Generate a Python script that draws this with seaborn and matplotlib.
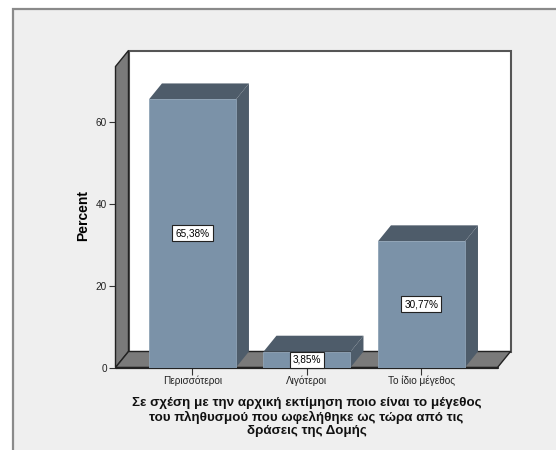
import matplotlib
matplotlib.use("Agg")
import matplotlib.pyplot as plt
from matplotlib.patches import Polygon, Rectangle
import pandas as pd
import seaborn as sns

categories = ['Περισσότεροι', 'Λιγότεροι', 'Το ίδιο μέγεθος']
percent = [65.38, 3.85, 30.77]
y_ticks = [0, 20, 40, 60]
x_title = 'Σε σχέση με την αρχική εκτίμηση ποιο είναι το μέγεθος\nτου πληθυσμού που ωφελήθηκε ως τώρα από τις\nδράσεις της Δομής'

sns.set_style('white')
plt.rcParams['font.family'] = ['Liberation Sans', 'DejaVu Sans']

W, H = 556, 450
fig = plt.figure(figsize=(W / 100, H / 100), dpi=100, facecolor='white')

# grey panel behind the chart
fig.add_artist(Rectangle((12.5 / W, -0.01), 1, 1 - 8.5 / H + 0.01, transform=fig.transFigure,
                         facecolor='#EFEFEF', edgecolor='#8A8A8A', linewidth=1.6, zorder=-1))

# axes is the front plane of the 3d box
ax = fig.add_axes([115.5 / W, 1 - 367.5 / H, 382 / W, 301 / H])
ax.patch.set_alpha(0)

df = pd.DataFrame({'cat': categories, 'pct': percent})
sns.barplot(data=df, x='cat', y='pct', color='#7B92A8', saturation=1, width=0.76, ax=ax, zorder=5,
            edgecolor='#8FA3B6', linewidth=0.6)

ax.set_xlim(-0.672, 2.664)
ax.set_ylim(0, 301 / 4.1)
ax.set_yticks(y_ticks)
ax.tick_params(axis='y', length=5, width=0.8, color='#333333', labelsize=7.2, pad=1, left=True)
ax.tick_params(axis='x', length=5, width=0.8, color='#333333', labelsize=7.2, pad=0.5, bottom=True)
for lab in ax.get_xticklabels() + ax.get_yticklabels():
    lab.set_color('#222222')

ax.set_ylabel('Percent', fontsize=10, fontweight='bold', color='black')
ax.yaxis.set_label_coords(-25 / 382, (367 - 215) / 301)
ax.set_xlabel(x_title, fontsize=9.6, fontweight='bold', color='#111111', labelpad=8, linespacing=1.18)

for s in ax.spines.values():
    s.set_visible(False)

# depth of the box in data units
dx = 13 / 114.5
dy = 16 / 4.1
x0, x1 = ax.get_xlim()
y0, y1 = ax.get_ylim()


def face(pts, color, z, edge='none', lw=0):
    ax.add_patch(Polygon(pts, closed=True, facecolor=color, edgecolor=edge, linewidth=lw,
                         clip_on=False, zorder=z))


wall = '#7A7A7A'
face([(x0 + dx, y0 + dy), (x1 + dx, y0 + dy), (x1 + dx, y1 + dy), (x0 + dx, y1 + dy)], 'white', 1, '#555555', 1.5)
face([(x0, y0), (x0 + dx, y0 + dy), (x0 + dx, y1 + dy), (x0, y1)], wall, 2, '#222222', 1.0)
face([(x0, y0), (x1, y0), (x1 + dx, y0 + dy), (x0 + dx, y0 + dy)], wall, 2, '#222222', 1.0)
ax.plot([x0, x1], [y0, y0], color='#222222', lw=1.6, clip_on=False, zorder=3)

dark = '#4E5C6A'
for bar, v in zip(ax.patches[:3], percent):
    left, right = bar.get_x(), bar.get_x() + bar.get_width()
    top = bar.get_height()
    face([(left, top), (right, top), (right + dx, top + dy), (left + dx, top + dy)], dark, 4)
    face([(right, 0), (right + dx, dy), (right + dx, top + dy), (right, top)], dark, 4)
    ax.text((left + right) / 2, top / 2, f'{v:.2f}%'.replace('.', ','), ha='center', va='center',
            fontsize=7.2, color='black', zorder=7,
            bbox=dict(boxstyle='square,pad=0.3', facecolor='white', edgecolor='#222222', linewidth=0.8))

fig.savefig('out.png', dpi=100)
